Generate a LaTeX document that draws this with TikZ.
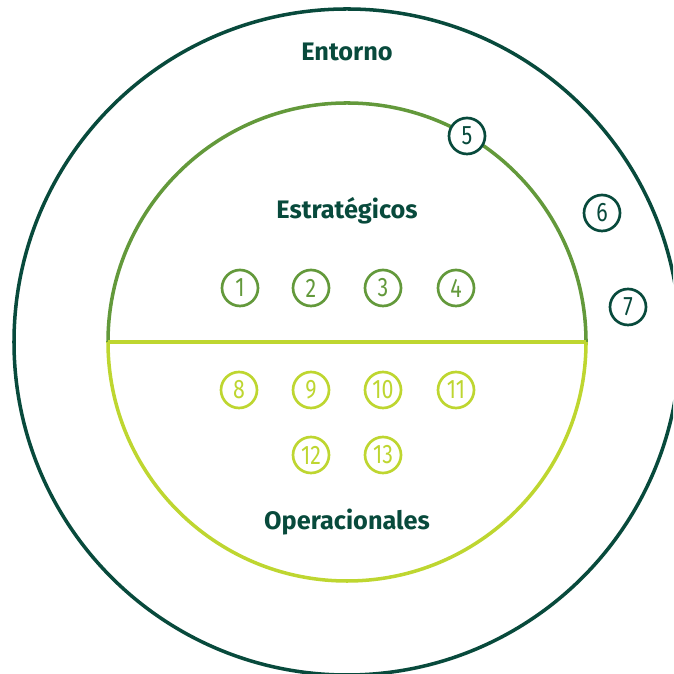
\documentclass[tikz,border=0pt]{standalone}
\usepackage{fontspec}
\setmainfont{Fira Sans}
\newfontfamily\numfont[FakeStretch=0.8]{Fira Sans}
\usepackage{xcolor}
\definecolor{oscuro}{RGB}{8,74,60}
\definecolor{medio}{RGB}{99,153,59}
\definecolor{lima}{RGB}{190,214,48}

\begin{document}
\begin{tikzpicture}[x=0.025cm, y=0.025cm,
	main/.style={draw=#1, text=#1, circle, line width=1.9pt, minimum size=36*0.025cm, inner sep=0pt, fill=white, font=\numfont\fontsize{19}{19}\selectfont},
	titulo/.style={text=oscuro, font=\bfseries\fontsize{18}{18}\selectfont}]
	\useasboundingbox (0,0) rectangle (673,674);
	\clip (0,0) rectangle (673,674);

	%Circulos grandes
	\coordinate (c) at (347,332);
	\draw[oscuro, line width=2.5pt] (c) circle [radius=333];
	\draw[medio, line width=2.5pt] (108,332) arc[start angle=180, end angle=0, radius=239];
	\draw[lima, line width=2.5pt] (108,332) arc[start angle=180, end angle=360, radius=239];
	\coordinate (l) at (108,332);
	\coordinate (r) at (586,332);
	\draw[lima, line width=2.5pt] (l) -- (r);

	%Titulos
	\node[titulo] (entorno) at (347,622) {Entorno};
	\node[titulo] (estrat) at (347,463) {Estratégicos};
	\node[titulo] (operac) at (347,152) {Operacionales};

	%Nodos estrategicos
	\node[main=medio] (1) at (240,386) {1};
	\node[main=medio] (2) at (311,386) {2};
	\node[main=medio] (3) at (383,386) {3};
	\node[main=medio] (4) at (456,386) {4};

	%Nodos del entorno
	\node[main=oscuro] (5) at (467,538) {5};
	\node[main=oscuro] (6) at (602,461) {6};
	\node[main=oscuro] (7) at (628,367) {7};

	%Nodos operacionales
	\node[main=lima] (8) at (239,284) {8};
	\node[main=lima] (9) at (311,284) {9};
	\node[main=lima] (10) at (383,284) {10};
	\node[main=lima] (11) at (456,284) {11};
	\node[main=lima] (12) at (311,219) {12};
	\node[main=lima] (13) at (383,219) {13};
\end{tikzpicture}
\end{document}
